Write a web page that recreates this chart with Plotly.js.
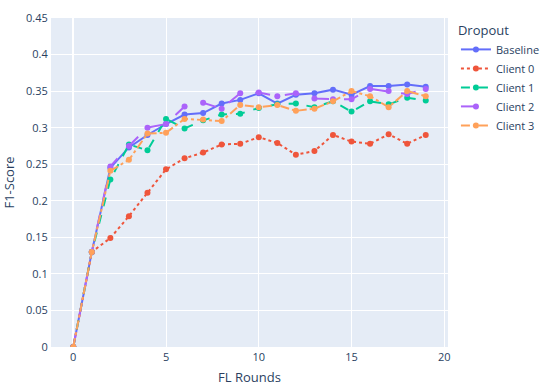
<!DOCTYPE html>
<html>
<head>
<meta charset="utf-8">
<script src="https://cdn.plot.ly/plotly-3.0.1.min.js"></script>
<style>
  html, body { margin: 0; padding: 0; background: #fff; }
  #myPlot { width: 540px; height: 386px; }
</style>
</head>
<body>
<div id="myPlot"></div>
<script>
// FL rounds
var rounds = [0,1,2,3,4,5,6,7,8,9,10,11,12,13,14,15,16,17,18,19];

// F1-score per dropout setting
var baseline = [0, 0.13, 0.245, 0.273, 0.290, 0.305, 0.318, 0.320, 0.333, 0.338,
                0.347, 0.333, 0.345, 0.347, 0.352, 0.345, 0.357, 0.357, 0.359, 0.356];
var client0  = [0, 0.13, 0.149, 0.179, 0.211, 0.243, 0.258, 0.266, 0.277, 0.278,
                0.287, 0.279, 0.263, 0.268, 0.290, 0.281, 0.278, 0.291, 0.278, 0.290];
var client1  = [0, 0.13, 0.229, 0.277, 0.269, 0.312, 0.299, 0.310, 0.318, 0.319,
                0.327, 0.332, 0.333, 0.328, 0.336, 0.322, 0.336, 0.332, 0.341, 0.337];
var client2  = [0, 0.13, 0.247, 0.275, 0.300, 0.305, 0.329, 0.334, 0.326, 0.347,
                0.348, 0.343, 0.347, 0.340, 0.339, 0.339, 0.353, 0.350, 0.346, 0.353];
var client3  = [0, 0.13, 0.241, 0.256, 0.292, 0.293, 0.312, 0.311, 0.309, 0.331,
                0.328, 0.331, 0.323, 0.326, 0.336, 0.350, 0.343, 0.328, 0.350, 0.343];

var names  = ['Baseline', 'Client 0', 'Client 1', 'Client 2', 'Client 3'];
var series = [baseline, client0, client1, client2, client3];
var colors = ['#636efa', '#EF553B', '#00cc96', '#ab63fa', '#FFA15A'];
var dashes = ['solid', 'dot', 'dash', 'longdash', 'dashdot'];

var data = [];
for (var i = 0; i < series.length; i++) {
    data.push({
        x: rounds,
        y: series[i],
        name: names[i],
        type: 'scatter',
        mode: 'lines+markers',
        line: { color: colors[i], dash: dashes[i], width: 2 },
        marker: { color: colors[i], size: 6 }
    });
}

var layout = {
    width: 540,
    height: 386,
    margin: { l: 51, r: 92, t: 18, b: 39, autoexpand: false },
    paper_bgcolor: '#fff',
    plot_bgcolor: '#E5ECF6',
    font: { family: '"Open Sans", verdana, arial, sans-serif', size: 11, color: '#2a3f5f' },
    xaxis: {
        title: { text: 'FL Rounds', standoff: 12 },
        range: [-1.2, 20.2],
        gridcolor: 'white',
        zerolinecolor: 'white',
        zerolinewidth: 2,
        linecolor: 'white',
        ticks: '',
        automargin: true
    },
    yaxis: {
        title: { text: 'F1-Score', standoff: 9 },
        range: [0, 0.45],
        dtick: 0.05,
        gridcolor: 'white',
        zerolinecolor: 'white',
        zerolinewidth: 2,
        linecolor: 'white',
        ticks: '',
        automargin: true
    },
    legend: {
        title: { text: 'Dropout' },
        tracegroupgap: 0
    },
    showlegend: true
};

Plotly.newPlot('myPlot', data, layout, { displayModeBar: false, staticPlot: true });
</script>
</body>
</html>
